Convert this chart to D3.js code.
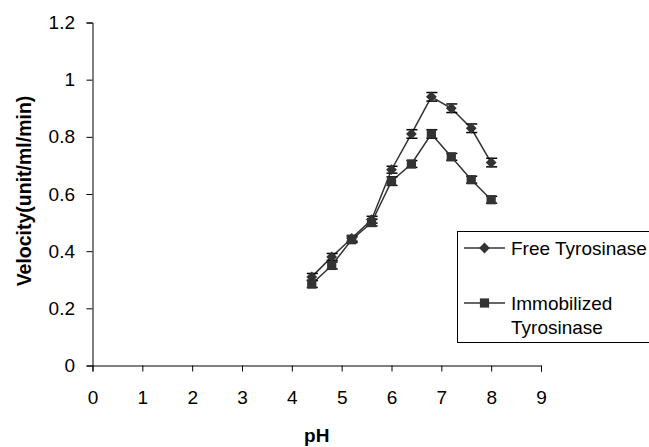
<!DOCTYPE html>
<html>
<head>
<meta charset="utf-8">
<script src="https://cdn.jsdelivr.net/npm/d3@7"></script>
<style>
  body { margin: 0; background: #fff; }
  svg { font-family: "Liberation Sans", Arial, sans-serif; }
</style>
</head>
<body>
<div id="chart"></div>
<script>
// pH values and velocities
const phValues = [4.4, 4.8, 5.2, 5.6, 6.0, 6.4, 6.8, 7.2, 7.6, 8.0];
const freeVelocity = [0.31, 0.38, 0.445, 0.51, 0.685, 0.81, 0.94, 0.90, 0.83, 0.71];
const freeError = [0.012, 0.012, 0.01, 0.012, 0.012, 0.015, 0.015, 0.015, 0.015, 0.015];
const immVelocity = [0.285, 0.35, 0.44, 0.50, 0.645, 0.705, 0.81, 0.73, 0.65, 0.58];
const immError = [0.012, 0.012, 0.01, 0.012, 0.015, 0.012, 0.015, 0.012, 0.012, 0.012];
const xTicks = [0, 1, 2, 3, 4, 5, 6, 7, 8, 9];
const yTicks = [0, 0.2, 0.4, 0.6, 0.8, 1, 1.2];
const seriesNames = ["Free Tyrosinase", "Immobilized Tyrosinase"];

const width = 649, height = 447;
const margin = { top: 22.5, right: 108, bottom: 81.5, left: 92.5 };
const ink = "#333";
const font = "Liberation Sans, Arial, sans-serif";

const svg = d3.select("#chart").append("svg")
    .attr("width", width)
    .attr("height", height);

const x = d3.scaleLinear().domain([0, 9]).range([margin.left, width - margin.right]);
const y = d3.scaleLinear().domain([0, 1.2]).range([height - margin.bottom, margin.top]);

// axes
const xAxis = svg.append("g")
    .attr("transform", `translate(0,${y(0)})`)
    .call(d3.axisBottom(x).tickValues(xTicks).tickSize(6).tickPadding(19).tickFormat(d3.format("d")));
const yAxis = svg.append("g")
    .attr("transform", `translate(${x(0)},0)`)
    .call(d3.axisLeft(y).tickValues(yTicks).tickSize(6).tickPadding(11.5).tickFormat(d => String(+d.toFixed(1))));

[xAxis, yAxis].forEach(g => {
    g.attr("font-size", 19).attr("font-family", font);
    g.select(".domain").attr("stroke", "#000");
    g.selectAll(".tick line").attr("stroke", "#000");
    g.selectAll(".tick text").attr("fill", "#000");
});

svg.append("text")
    .attr("x", x(4.5))
    .attr("y", 442)
    .attr("text-anchor", "middle")
    .attr("font-size", 19)
    .attr("font-weight", "bold")
    .text("pH");

svg.append("text")
    .attr("transform", `translate(31,${(y(0) + y(1.2)) / 2 - 3}) rotate(-90)`)
    .attr("text-anchor", "middle")
    .attr("font-size", 19.5)
    .attr("font-weight", "bold")
    .text("Velocity(unit/ml/min)");

// diamond = square turned 45deg, like the Excel marker
const diamond = { d: d3.symbol().type(d3.symbolSquare).size(58)(), rot: 45 };
const square = { d: d3.symbol().type(d3.symbolSquare).size(85)(), rot: 0 };

function drawSeries(values, errors, symbol) {
    const pts = phValues.map((p, i) => ({ p, v: values[i], e: errors[i] }));
    const line = d3.line().x(d => x(d.p)).y(d => y(d.v));
    svg.append("path")
        .datum(pts)
        .attr("d", line)
        .attr("fill", "none")
        .attr("stroke", ink)
        .attr("stroke-width", 1.5);

    const g = svg.append("g");
    const bars = g.selectAll("g.err").data(pts).enter().append("g");
    bars.append("line")
        .attr("x1", d => x(d.p)).attr("x2", d => x(d.p))
        .attr("y1", d => y(d.v + d.e)).attr("y2", d => y(d.v - d.e))
        .attr("stroke", "#000").attr("stroke-width", 1.2);
    bars.append("line")
        .attr("x1", d => x(d.p) - 5).attr("x2", d => x(d.p) + 6)
        .attr("y1", d => y(d.v + d.e)).attr("y2", d => y(d.v + d.e))
        .attr("stroke", "#000").attr("stroke-width", 1.5);
    bars.append("line")
        .attr("x1", d => x(d.p) - 5).attr("x2", d => x(d.p) + 6)
        .attr("y1", d => y(d.v - d.e)).attr("y2", d => y(d.v - d.e))
        .attr("stroke", "#000").attr("stroke-width", 1.5);

    g.selectAll("path.mark").data(pts).enter().append("path")
        .attr("transform", d => `translate(${x(d.p)},${y(d.v)}) rotate(${symbol.rot})`)
        .attr("d", symbol.d)
        .attr("fill", ink);
}

drawSeries(freeVelocity, freeError, diamond);
drawSeries(immVelocity, immError, square);

// legend
const legend = svg.append("g");
legend.append("rect")
    .attr("x", 457.5).attr("y", 231.5)
    .attr("width", 200).attr("height", 111)
    .attr("fill", "#fff")
    .attr("stroke", "#000");

const legendRows = [
    { y: 248, symbol: diamond, lines: [seriesNames[0]] },
    { y: 303, symbol: square, lines: ["Immobilized", "Tyrosinase"] }
];
legendRows.forEach(r => {
    legend.append("line")
        .attr("x1", 464).attr("x2", 505)
        .attr("y1", r.y).attr("y2", r.y)
        .attr("stroke", ink).attr("stroke-width", 1.5);
    legend.append("path")
        .attr("transform", `translate(484.5,${r.y}) rotate(${r.symbol.rot})`)
        .attr("d", r.symbol.d)
        .attr("fill", ink);
    r.lines.forEach((t, i) => {
        legend.append("text")
            .attr("x", 511)
            .attr("y", r.y + 6.5 + i * 24)
            .attr("font-size", 19)
            .text(t);
    });
});
</script>
</body>
</html>
